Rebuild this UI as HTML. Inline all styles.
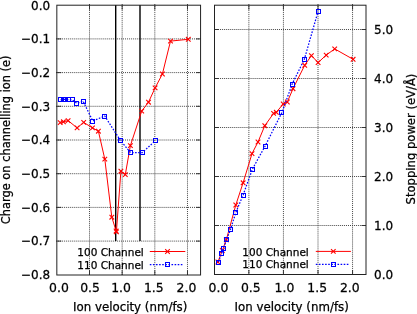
<!DOCTYPE html>
<html><head><meta charset="utf-8"><style>
html,body{margin:0;padding:0;background:#fff;}
svg{display:block;}
text{font-family:'DejaVu Sans', 'Liberation Sans', sans-serif;fill:#000;stroke:#000;stroke-width:0.25px;}
.tk{font-size:12px;}
.tkx{font-size:12.4px;}
.k{font-size:10.5px;}
.lab{font-size:11.8px;}
.yl{font-size:11.4px;}
.yr{font-size:11.6px;}
.g{stroke:#444;stroke-width:1;stroke-dasharray:1 1.03;fill:none;}
.t{stroke:#333;stroke-width:1;}
.f{stroke:#222;stroke-width:1;fill:none;}
.bk{stroke:#000;}
.rl{stroke:#ff0000;stroke-width:1.0;fill:none;}
.bl{stroke:#0000ff;stroke-width:1.25;fill:none;stroke-dasharray:1.6 1.5;}
.xm{stroke:#ff0000;stroke-width:1.1;fill:none;}
.sq{stroke:#0000ff;stroke-width:1.0;fill:none;}
</style></head><body>
<svg width="417" height="314" viewBox="0 0 417 314">
<rect width="417" height="314" fill="#fff"/>
<line x1="89.50" y1="4" x2="89.50" y2="275.0" class="g"/>
<line x1="122.16" y1="4" x2="122.16" y2="275.0" class="g"/>
<line x1="154.82" y1="4" x2="154.82" y2="275.0" class="g"/>
<line x1="187.49" y1="4" x2="187.49" y2="275.0" class="g"/>
<line x1="56" y1="38.90" x2="200.57" y2="38.90" class="g"/>
<line x1="56" y1="72.60" x2="200.57" y2="72.60" class="g"/>
<line x1="56" y1="106.30" x2="200.57" y2="106.30" class="g"/>
<line x1="56" y1="140.00" x2="200.57" y2="140.00" class="g"/>
<line x1="56" y1="173.70" x2="200.57" y2="173.70" class="g"/>
<line x1="56" y1="207.40" x2="200.57" y2="207.40" class="g"/>
<line x1="56" y1="241.10" x2="200.57" y2="241.10" class="g"/>
<line x1="89.50" y1="275.0" x2="89.50" y2="270.5" class="t"/>
<line x1="89.50" y1="5.2" x2="89.50" y2="9.7" class="t"/>
<line x1="122.16" y1="275.0" x2="122.16" y2="270.5" class="t"/>
<line x1="122.16" y1="5.2" x2="122.16" y2="9.7" class="t"/>
<line x1="154.82" y1="275.0" x2="154.82" y2="270.5" class="t"/>
<line x1="154.82" y1="5.2" x2="154.82" y2="9.7" class="t"/>
<line x1="187.49" y1="275.0" x2="187.49" y2="270.5" class="t"/>
<line x1="187.49" y1="5.2" x2="187.49" y2="9.7" class="t"/>
<line x1="56.83" y1="38.90" x2="61.33" y2="38.90" class="t"/>
<line x1="200.57" y1="38.90" x2="196.07" y2="38.90" class="t"/>
<line x1="56.83" y1="72.60" x2="61.33" y2="72.60" class="t"/>
<line x1="200.57" y1="72.60" x2="196.07" y2="72.60" class="t"/>
<line x1="56.83" y1="106.30" x2="61.33" y2="106.30" class="t"/>
<line x1="200.57" y1="106.30" x2="196.07" y2="106.30" class="t"/>
<line x1="56.83" y1="140.00" x2="61.33" y2="140.00" class="t"/>
<line x1="200.57" y1="140.00" x2="196.07" y2="140.00" class="t"/>
<line x1="56.83" y1="173.70" x2="61.33" y2="173.70" class="t"/>
<line x1="200.57" y1="173.70" x2="196.07" y2="173.70" class="t"/>
<line x1="56.83" y1="207.40" x2="61.33" y2="207.40" class="t"/>
<line x1="200.57" y1="207.40" x2="196.07" y2="207.40" class="t"/>
<line x1="56.83" y1="241.10" x2="61.33" y2="241.10" class="t"/>
<line x1="200.57" y1="241.10" x2="196.07" y2="241.10" class="t"/>
<rect x="56.83" y="5.2" width="143.74" height="269.80" class="f"/>
<line x1="115.7" y1="5.2" x2="115.7" y2="241.10" class="bk" stroke-width="1.4"/>
<line x1="140.0" y1="5.2" x2="140.0" y2="241.10" class="bk" stroke-width="1.4"/>
<polyline points="60.2,122.6 63.4,121.8 68.1,120.6 77.1,127.9 83.7,122.4 92.5,127.9 98.4,131.2 104.8,159.1 111.8,217.2 116.1,231.0 116.4,231.9 120.9,171.2 125.3,174.6 130.4,145.6 141.7,111.1 148.5,102.2 155.1,87.9 162.4,74 170.5,41.1 188.3,39.3" class="rl"/>
<path d="M57.90,120.30L62.50,124.90M57.90,124.90L62.50,120.30" class="xm"/>
<path d="M61.10,119.50L65.70,124.10M61.10,124.10L65.70,119.50" class="xm"/>
<path d="M65.80,118.30L70.40,122.90M65.80,122.90L70.40,118.30" class="xm"/>
<path d="M74.80,125.60L79.40,130.20M74.80,130.20L79.40,125.60" class="xm"/>
<path d="M81.40,120.10L86.00,124.70M81.40,124.70L86.00,120.10" class="xm"/>
<path d="M90.20,125.60L94.80,130.20M90.20,130.20L94.80,125.60" class="xm"/>
<path d="M96.10,128.90L100.70,133.50M96.10,133.50L100.70,128.90" class="xm"/>
<path d="M102.50,156.80L107.10,161.40M102.50,161.40L107.10,156.80" class="xm"/>
<path d="M109.50,214.90L114.10,219.50M109.50,219.50L114.10,214.90" class="xm"/>
<path d="M113.80,228.70L118.40,233.30M113.80,233.30L118.40,228.70" class="xm"/>
<path d="M114.10,229.60L118.70,234.20M114.10,234.20L118.70,229.60" class="xm"/>
<path d="M118.60,168.90L123.20,173.50M118.60,173.50L123.20,168.90" class="xm"/>
<path d="M123.00,172.30L127.60,176.90M123.00,176.90L127.60,172.30" class="xm"/>
<path d="M128.10,143.30L132.70,147.90M128.10,147.90L132.70,143.30" class="xm"/>
<path d="M139.40,108.80L144.00,113.40M139.40,113.40L144.00,108.80" class="xm"/>
<path d="M146.20,99.90L150.80,104.50M146.20,104.50L150.80,99.90" class="xm"/>
<path d="M152.80,85.60L157.40,90.20M152.80,90.20L157.40,85.60" class="xm"/>
<path d="M160.10,71.70L164.70,76.30M160.10,76.30L164.70,71.70" class="xm"/>
<path d="M168.20,38.80L172.80,43.40M168.20,43.40L172.80,38.80" class="xm"/>
<path d="M186.00,37.00L190.60,41.60M186.00,41.60L190.60,37.00" class="xm"/>
<polyline points="60.6,99.8 63.1,99.3 65.3,99.3 68.5,99.6 72.1,99.8 76.9,103.4 83.1,101.2 92.8,121.0 104.7,116.0 120.5,140.6 130.6,152.6 142.3,152.6 155.3,140.7" class="bl"/>
<rect x="58.50" y="97.50" width="4.00" height="4.00" class="sq"/>
<rect x="61.50" y="97.50" width="4.00" height="4.00" class="sq"/>
<rect x="63.50" y="97.50" width="4.00" height="4.00" class="sq"/>
<rect x="66.50" y="97.50" width="4.00" height="4.00" class="sq"/>
<rect x="70.50" y="97.50" width="4.00" height="4.00" class="sq"/>
<rect x="74.50" y="101.50" width="4.00" height="4.00" class="sq"/>
<rect x="81.50" y="99.50" width="4.00" height="4.00" class="sq"/>
<rect x="90.50" y="119.50" width="4.00" height="4.00" class="sq"/>
<rect x="102.50" y="114.50" width="4.00" height="4.00" class="sq"/>
<rect x="118.50" y="138.50" width="4.00" height="4.00" class="sq"/>
<rect x="128.50" y="150.50" width="4.00" height="4.00" class="sq"/>
<rect x="140.50" y="150.50" width="4.00" height="4.00" class="sq"/>
<rect x="153.50" y="138.50" width="4.00" height="4.00" class="sq"/>
<line x1="248.87" y1="4" x2="248.87" y2="274.5" class="g"/>
<line x1="283.43" y1="4" x2="283.43" y2="274.5" class="g"/>
<line x1="318.00" y1="4" x2="318.00" y2="274.5" class="g"/>
<line x1="352.56" y1="4" x2="352.56" y2="274.5" class="g"/>
<line x1="214" y1="225.50" x2="366.0" y2="225.50" class="g"/>
<line x1="214" y1="176.50" x2="366.0" y2="176.50" class="g"/>
<line x1="214" y1="127.50" x2="366.0" y2="127.50" class="g"/>
<line x1="214" y1="78.50" x2="366.0" y2="78.50" class="g"/>
<line x1="214" y1="29.50" x2="366.0" y2="29.50" class="g"/>
<line x1="248.87" y1="274.5" x2="248.87" y2="270.0" class="t"/>
<line x1="248.87" y1="5.2" x2="248.87" y2="9.7" class="t"/>
<line x1="283.43" y1="274.5" x2="283.43" y2="270.0" class="t"/>
<line x1="283.43" y1="5.2" x2="283.43" y2="9.7" class="t"/>
<line x1="318.00" y1="274.5" x2="318.00" y2="270.0" class="t"/>
<line x1="318.00" y1="5.2" x2="318.00" y2="9.7" class="t"/>
<line x1="352.56" y1="274.5" x2="352.56" y2="270.0" class="t"/>
<line x1="352.56" y1="5.2" x2="352.56" y2="9.7" class="t"/>
<line x1="214.5" y1="225.50" x2="219.0" y2="225.50" class="t"/>
<line x1="366.0" y1="225.50" x2="361.5" y2="225.50" class="t"/>
<line x1="214.5" y1="176.50" x2="219.0" y2="176.50" class="t"/>
<line x1="366.0" y1="176.50" x2="361.5" y2="176.50" class="t"/>
<line x1="214.5" y1="127.50" x2="219.0" y2="127.50" class="t"/>
<line x1="366.0" y1="127.50" x2="361.5" y2="127.50" class="t"/>
<line x1="214.5" y1="78.50" x2="219.0" y2="78.50" class="t"/>
<line x1="366.0" y1="78.50" x2="361.5" y2="78.50" class="t"/>
<line x1="214.5" y1="29.50" x2="219.0" y2="29.50" class="t"/>
<line x1="366.0" y1="29.50" x2="361.5" y2="29.50" class="t"/>
<rect x="214.5" y="5.2" width="151.50" height="269.30" class="f"/>
<polyline points="217.9,262 222.3,250.5 226.3,239.8 235.8,205 243.1,182.8 252,153.6 258.0,142.0 264.8,125.7 273.6,113.4 276.3,112.3 283.2,104.0 287.3,102.0 293,88.7 304.7,65.3 311.4,55.6 318.1,62.6 326.2,55.1 334.7,48.9 353.1,59.3" class="rl"/>
<path d="M215.60,259.70L220.20,264.30M215.60,264.30L220.20,259.70" class="xm"/>
<path d="M220.00,248.20L224.60,252.80M220.00,252.80L224.60,248.20" class="xm"/>
<path d="M224.00,237.50L228.60,242.10M224.00,242.10L228.60,237.50" class="xm"/>
<path d="M233.50,202.70L238.10,207.30M233.50,207.30L238.10,202.70" class="xm"/>
<path d="M240.80,180.50L245.40,185.10M240.80,185.10L245.40,180.50" class="xm"/>
<path d="M249.70,151.30L254.30,155.90M249.70,155.90L254.30,151.30" class="xm"/>
<path d="M255.70,139.70L260.30,144.30M255.70,144.30L260.30,139.70" class="xm"/>
<path d="M262.50,123.40L267.10,128.00M262.50,128.00L267.10,123.40" class="xm"/>
<path d="M271.30,111.10L275.90,115.70M271.30,115.70L275.90,111.10" class="xm"/>
<path d="M274.00,110.00L278.60,114.60M274.00,114.60L278.60,110.00" class="xm"/>
<path d="M280.90,101.70L285.50,106.30M280.90,106.30L285.50,101.70" class="xm"/>
<path d="M285.00,99.70L289.60,104.30M285.00,104.30L289.60,99.70" class="xm"/>
<path d="M290.70,86.40L295.30,91.00M290.70,91.00L295.30,86.40" class="xm"/>
<path d="M302.40,63.00L307.00,67.60M302.40,67.60L307.00,63.00" class="xm"/>
<path d="M309.10,53.30L313.70,57.90M309.10,57.90L313.70,53.30" class="xm"/>
<path d="M315.80,60.30L320.40,64.90M315.80,64.90L320.40,60.30" class="xm"/>
<path d="M323.90,52.80L328.50,57.40M323.90,57.40L328.50,52.80" class="xm"/>
<path d="M332.40,46.60L337.00,51.20M332.40,51.20L337.00,46.60" class="xm"/>
<path d="M350.80,57.00L355.40,61.60M350.80,61.60L355.40,57.00" class="xm"/>
<polyline points="218.4,262 221.5,253.8 223.6,248.4 226.6,239.6 230.5,229.5 235.8,212.6 243.1,195.0 252.4,169.2 265.0,146.2 281.8,112.8 292.2,84 304.4,59.1 318.1,11.3" class="bl"/>
<rect x="216.50" y="260.50" width="4.00" height="4.00" class="sq"/>
<rect x="219.50" y="251.50" width="4.00" height="4.00" class="sq"/>
<rect x="221.50" y="246.50" width="4.00" height="4.00" class="sq"/>
<rect x="224.50" y="237.50" width="4.00" height="4.00" class="sq"/>
<rect x="228.50" y="227.50" width="4.00" height="4.00" class="sq"/>
<rect x="233.50" y="210.50" width="4.00" height="4.00" class="sq"/>
<rect x="241.50" y="193.50" width="4.00" height="4.00" class="sq"/>
<rect x="250.50" y="167.50" width="4.00" height="4.00" class="sq"/>
<rect x="263.50" y="144.50" width="4.00" height="4.00" class="sq"/>
<rect x="279.50" y="110.50" width="4.00" height="4.00" class="sq"/>
<rect x="290.50" y="82.50" width="4.00" height="4.00" class="sq"/>
<rect x="302.50" y="57.50" width="4.00" height="4.00" class="sq"/>
<rect x="316.50" y="9.50" width="4.00" height="4.00" class="sq"/>
<text transform="translate(50.2,9.50) scale(1,1.04)" class="tk" text-anchor="end">0.0</text>
<text transform="translate(50.2,43.20) scale(1,1.04)" class="tk" text-anchor="end">−0.1</text>
<text transform="translate(50.2,76.90) scale(1,1.04)" class="tk" text-anchor="end">−0.2</text>
<text transform="translate(50.2,110.60) scale(1,1.04)" class="tk" text-anchor="end">−0.3</text>
<text transform="translate(50.2,144.30) scale(1,1.04)" class="tk" text-anchor="end">−0.4</text>
<text transform="translate(50.2,178.00) scale(1,1.04)" class="tk" text-anchor="end">−0.5</text>
<text transform="translate(50.2,211.70) scale(1,1.04)" class="tk" text-anchor="end">−0.6</text>
<text transform="translate(50.2,245.40) scale(1,1.04)" class="tk" text-anchor="end">−0.7</text>
<text transform="translate(50.2,279.10) scale(1,1.04)" class="tk" text-anchor="end">−0.8</text>
<text transform="translate(58.90,291.7) scale(1,1.05)" class="tkx" text-anchor="middle">0.0</text>
<text transform="translate(218.40,291.7) scale(1,1.05)" class="tkx" text-anchor="middle">0.0</text>
<text transform="translate(90.00,291.7) scale(1,1.05)" class="tkx" text-anchor="middle">0.5</text>
<text transform="translate(250.80,291.7) scale(1,1.05)" class="tkx" text-anchor="middle">0.5</text>
<text transform="translate(121.00,291.7) scale(1,1.05)" class="tkx" text-anchor="middle">1.0</text>
<text transform="translate(284.40,291.7) scale(1,1.05)" class="tkx" text-anchor="middle">1.0</text>
<text transform="translate(153.80,291.7) scale(1,1.05)" class="tkx" text-anchor="middle">1.5</text>
<text transform="translate(317.20,291.7) scale(1,1.05)" class="tkx" text-anchor="middle">1.5</text>
<text transform="translate(186.40,291.7) scale(1,1.05)" class="tkx" text-anchor="middle">2.0</text>
<text transform="translate(349.80,291.7) scale(1,1.05)" class="tkx" text-anchor="middle">2.0</text>
<text transform="translate(374.1,278.80) scale(1,1.04)" class="tk">0.0</text>
<text transform="translate(374.1,229.80) scale(1,1.04)" class="tk">1.0</text>
<text transform="translate(374.1,180.80) scale(1,1.04)" class="tk">2.0</text>
<text transform="translate(374.1,131.80) scale(1,1.04)" class="tk">3.0</text>
<text transform="translate(374.1,82.80) scale(1,1.04)" class="tk">4.0</text>
<text transform="translate(374.1,33.80) scale(1,1.04)" class="tk">5.0</text>
<text x="130.2" y="311.3" class="lab" text-anchor="middle">Ion velocity (nm/fs)</text>
<text x="291.7" y="311.3" class="lab" text-anchor="middle">Ion velocity (nm/fs)</text>
<text transform="translate(10.1,139.8) rotate(-90)" class="lab yl" text-anchor="middle">Charge on channelling ion (e)</text>
<text transform="translate(414.8,139.0) rotate(-90)" class="lab yr" text-anchor="middle">Stopping power (eV/Å)</text>
<text x="77.3" y="255.6" class="k">100 Channel</text>
<text x="77.3" y="268.6" class="k">110 Channel</text>
<line x1="149.8" y1="251.5" x2="185.3" y2="251.5" class="rl"/>
<path d="M165.20,249.20L169.80,253.80M165.20,253.80L169.80,249.20" class="xm"/>
<line x1="149.8" y1="264.5" x2="183.8" y2="264.5" class="bl"/>
<rect x="165.50" y="262.50" width="4.00" height="4.00" class="sq"/>
<text x="242.3" y="255.5" class="k">100 Channel</text>
<text x="242.3" y="268.4" class="k">110 Channel</text>
<line x1="315.8" y1="251.4" x2="350.9" y2="251.4" class="rl"/>
<path d="M331.00,249.10L335.60,253.70M331.00,253.70L335.60,249.10" class="xm"/>
<line x1="315.8" y1="264.3" x2="349.4" y2="264.3" class="bl"/>
<rect x="331.50" y="262.50" width="4.00" height="4.00" class="sq"/>
</svg>
</body></html>
